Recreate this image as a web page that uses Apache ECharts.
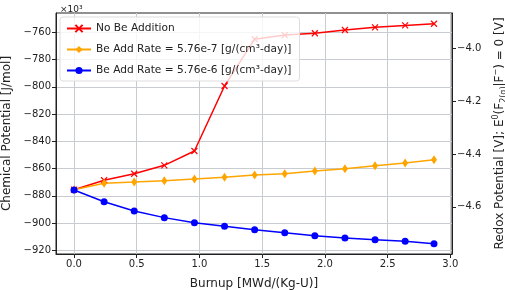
<!DOCTYPE html>
<html>
<head>
<meta charset="utf-8">
<script src="https://cdn.jsdelivr.net/npm/echarts@6/dist/echarts.min.js"></script>
<style>
  html, body { margin: 0; padding: 0; background: #fff; }
  #myChart { width: 505px; height: 290px; }
</style>
</head>
<body>
<div id="myChart"></div>
<script>
// burnup steps [MWd/(Kg-U)]
const burnup = [0, 0.24, 0.48, 0.72, 0.96, 1.2, 1.44, 1.68, 1.92, 2.16, 2.4, 2.64, 2.87];

// chemical potential, in units of 10^3 J/mol
const noBe = [-875.5, -868.6, -863.8, -857.6, -847.1, -799.4, -765, -762, -760.7, -758.3, -756.3, -754.9, -753.7];
const beLow = [-875.5, -870.8, -869.9, -868.9, -867.7, -866.4, -864.7, -863.8, -861.8, -860.1, -857.9, -855.9, -853.5];
const beHigh = [-875.7, -884.3, -891.2, -896.0, -899.7, -902.4, -904.9, -907.1, -909.3, -911.0, -912.2, -913.4, -915.2];

const xTicks = [0, 0.5, 1.0, 1.5, 2.0, 2.5, 3.0];
const yTicks = [-920, -900, -880, -860, -840, -820, -800, -780, -760];
const redoxTicks = [-4.6, -4.4, -4.2, -4.0];

const names = [
  'No Be Addition',
  'Be Add Rate = 5.76e-7 [g/(cm³-day)]',
  'Be Add Rate = 5.76e-6 [g/(cm³-day)]'
];

const font = 'DejaVu Sans';
const minus = v => String(v).replace('-', '\u2212');
const pairs = ys => burnup.map((x, i) => [x, ys[i]]);

const myChart = echarts.init(document.getElementById('myChart'));

const option = {
  animation: false,
  textStyle: { fontFamily: font },
  title: {
    text: '×10³',
    left: 55,
    top: 0,
    textStyle: { fontFamily: font, fontSize: 9, fontWeight: 'normal', color: '#222' }
  },
  grid: {
    left: 56, right: 53, top: 13, bottom: 36,
    outerBoundsMode: 'none',
    containLabel: false,
    show: true, borderColor: '#222', borderWidth: 1
  },
  legend: {
    orient: 'vertical',
    left: 60, top: 17,
    itemWidth: 24, itemHeight: 9, itemGap: 10,
    padding: [6, 8, 5, 6],
    backgroundColor: 'rgba(255,255,255,0.8)',
    borderColor: '#ddd', borderWidth: 1, borderRadius: 3,
    textStyle: { fontFamily: font, fontSize: 10.6, color: '#222' },
    data: names
  },
  xAxis: {
    type: 'value',
    min: -0.1435, max: 3.0135,
    name: 'Burnup [MWd/(Kg-U)]',
    nameLocation: 'middle', nameGap: 24,
    nameTextStyle: { fontFamily: font, fontSize: 12, color: '#222' },
    axisLine: { onZero: false, lineStyle: { color: '#222' } },
    axisTick: { customValues: xTicks, length: 4, lineStyle: { color: '#222' } },
    axisLabel: {
      customValues: xTicks, fontSize: 10, color: '#222', margin: 5,
      formatter: v => v.toFixed(1)
    },
    splitLine: { show: true, lineStyle: { color: '#c8ccd0', width: 1 } }
  },
  yAxis: [{
    type: 'value',
    min: -922.7, max: -745.8,
    name: 'Chemical Potential [J/mol]',
    nameLocation: 'middle', nameGap: 40,
    nameTextStyle: { fontFamily: font, fontSize: 12, color: '#222' },
    axisLine: { show: true, onZero: false, lineStyle: { color: '#222' } },
    axisTick: { show: true, customValues: yTicks, length: 4, lineStyle: { color: '#222' } },
    axisLabel: { customValues: yTicks, fontSize: 10, color: '#222', margin: 5, formatter: minus },
    splitLine: { show: true, lineStyle: { color: '#c8ccd0', width: 1 } }
  }, {
    type: 'value',
    position: 'right',
    min: -4.779, max: -3.866,
    name: 'Redox Potential [V]; E{sup|0}(F{sub|2(g)}|F{sup|−}) = 0 [V]',
    nameLocation: 'middle', nameGap: 34, nameRotate: 90,
    nameTextStyle: {
      fontFamily: font, fontSize: 12, color: '#222', lineHeight: 16,
      rich: {
        sup: { fontFamily: font, fontSize: 8, color: '#222', verticalAlign: 'top', lineHeight: 16 },
        sub: { fontFamily: font, fontSize: 8, color: '#222', verticalAlign: 'bottom', lineHeight: 16 }
      }
    },
    axisLine: { show: true, onZero: false, lineStyle: { color: '#222' } },
    axisTick: { show: true, customValues: redoxTicks, length: 4, lineStyle: { color: '#222' } },
    axisLabel: {
      customValues: redoxTicks, fontSize: 10, color: '#222', margin: 5,
      formatter: v => minus(v.toFixed(1))
    },
    splitLine: { show: false }
  }],
  series: [{
    name: names[0],
    type: 'line',
    data: pairs(noBe),
    symbol: 'path://M0,0L10,10M10,0L0,10',
    symbolSize: 6,
    lineStyle: { color: '#ff0000', width: 1.5 },
    itemStyle: { color: '#ff0000', borderColor: '#ff0000', borderWidth: 1.2 },
    z: 3
  }, {
    name: names[1],
    type: 'line',
    data: pairs(beLow),
    symbol: 'diamond',
    symbolSize: [6, 9],
    lineStyle: { color: '#ffa500', width: 1.5 },
    itemStyle: { color: '#ffa500' },
    z: 3
  }, {
    name: names[2],
    type: 'line',
    data: pairs(beHigh),
    symbol: 'circle',
    symbolSize: 7,
    lineStyle: { color: '#0000ff', width: 1.5 },
    itemStyle: { color: '#0000ff' },
    z: 3
  }]
};

myChart.setOption(option);
</script>
</body>
</html>
